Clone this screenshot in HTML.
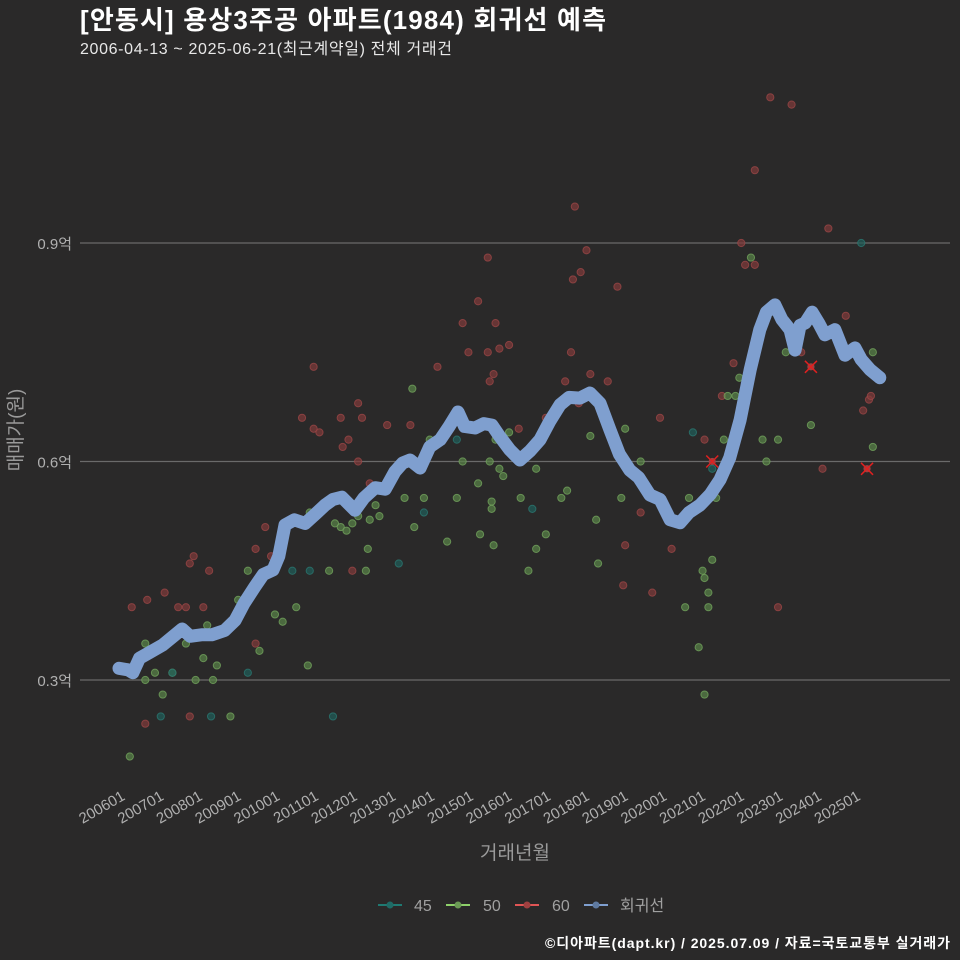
<!DOCTYPE html>
<html><head><meta charset="utf-8">
<style>
html,body{margin:0;padding:0;background:#2a2929;overflow:hidden;width:960px;height:960px;}
svg{display:block;}
svg text{font-family:"Liberation Sans","Noto Sans CJK KR",sans-serif;}
</style></head>
<body>
<svg id="chart" width="960" height="960" xmlns="http://www.w3.org/2000/svg">
<rect width="960" height="960" fill="#2a2929"/>
<text x="80" y="29" fill="#ffffff" font-size="26" font-weight="bold" textLength="526">[안동시] 용상3주공 아파트(1984) 회귀선 예측</text>
<text x="80" y="54" fill="#e8e8e8" font-size="16" textLength="372">2006-04-13 ~ 2025-06-21(최근계약일) 전체 거래건</text>
<g id="grid"></g>
<g id="pts"></g>
<g id="line"></g>
<g id="xt"></g>
<text x="22" y="430" fill="#9a9a9a" font-size="19" text-anchor="middle" transform="rotate(-90 22 430)">매매가(원)</text>
<text x="515" y="859" fill="#9a9a9a" font-size="19" text-anchor="middle">거래년월</text>
<g font-size="16" fill="#a0a0a0">
<g><line x1="378" y1="905" x2="402" y2="905" stroke="#1f7a72" stroke-width="2"/><circle cx="390" cy="905" r="3.5" fill="#1f6b66"/><text x="414" y="911">45</text></g>
<g><line x1="446" y1="905" x2="470" y2="905" stroke="#8ed16a" stroke-width="2"/><circle cx="458" cy="905" r="3.5" fill="#6b9a55"/><text x="483" y="911">50</text></g>
<g><line x1="515" y1="905" x2="539" y2="905" stroke="#e05555" stroke-width="2"/><circle cx="527" cy="905" r="3.5" fill="#a04040"/><text x="552" y="911">60</text></g>
<g><line x1="584" y1="905" x2="608" y2="905" stroke="#7f9fcf" stroke-width="2"/><circle cx="596" cy="905" r="3.5" fill="#5f7aa0"/><text x="620" y="911">회귀선</text></g>
</g>
<text x="950" y="948" fill="#ffffff" font-size="14" font-weight="bold" text-anchor="end" textLength="405">©디아파트(dapt.kr) / 2025.07.09 / 자료=국토교통부 실거래가</text>
</svg>
<script>
const yTicks=[0.3,0.6,0.9];
const yTickLabels=["0.3억","0.6억","0.9억"];
const xTickYears=[2006,2007,2008,2009,2010,2011,2012,2013,2014,2015,2016,2017,2018,2019,2020,2021,2022,2023,2024,2025];
const xTickLabels=["200601","200701","200801","200901","201001","201101","201201","201301","201401","201501","201601","201701","201801","201901","202001","202101","202201","202301","202401","202501"];
const lineYears=[2005.87,2006.1,2006.23,2006.4,2006.67,2007.0,2007.32,2007.5,2007.71,2008.0,2008.27,2008.6,2008.87,2009.1,2009.38,2009.6,2009.85,2010.0,2010.16,2010.4,2010.68,2010.95,2011.19,2011.4,2011.63,2011.97,2012.2,2012.49,2012.75,2013.0,2013.2,2013.39,2013.65,2013.9,2014.17,2014.4,2014.63,2014.8,2015.07,2015.3,2015.51,2015.7,2015.97,2016.23,2016.5,2016.75,2017.0,2017.27,2017.5,2017.78,2018.04,2018.3,2018.56,2018.8,2019.07,2019.3,2019.59,2019.85,2020.11,2020.37,2020.6,2020.88,2021.15,2021.4,2021.65,2021.92,2022.18,2022.43,2022.6,2022.82,2023.0,2023.21,2023.34,2023.47,2023.6,2023.78,2023.95,2024.11,2024.37,2024.63,2024.89,2025.05,2025.28,2025.53];
const linePrices=[0.316,0.314,0.310,0.330,0.338,0.348,0.362,0.370,0.360,0.362,0.362,0.368,0.382,0.405,0.428,0.445,0.451,0.470,0.513,0.520,0.515,0.528,0.540,0.548,0.551,0.533,0.550,0.564,0.562,0.586,0.598,0.602,0.591,0.620,0.630,0.648,0.668,0.648,0.646,0.652,0.650,0.635,0.616,0.602,0.615,0.630,0.655,0.678,0.688,0.687,0.694,0.680,0.643,0.610,0.588,0.578,0.554,0.548,0.520,0.516,0.530,0.540,0.555,0.575,0.605,0.657,0.726,0.781,0.805,0.815,0.795,0.781,0.753,0.787,0.790,0.805,0.790,0.774,0.781,0.746,0.756,0.740,0.726,0.715];
const years60=[2006.2,2006.6,2006.55,2007.05,2007.4,2007.6,2007.7,2007.8,2007.7,2008.05,2008.2,2009.4,2009.65,2009.8,2009.4,2010.6,2010.9,2010.9,2011.05,2011.6,2011.65,2011.8,2011.9,2012.05,2012.05,2012.15,2012.35,2012.8,2013.4,2014.1,2014.75,2014.9,2015.15,2015.4,2015.4,2015.55,2015.6,2015.7,2015.95,2015.45,2016.2,2016.9,2017.4,2017.6,2017.65,2017.8,2017.95,2017.55,2017.75,2018.05,2018.5,2018.75,2018.95,2018.9,2019.35,2019.65,2019.85,2020.15,2021.0,2021.45,2021.75,2021.95,2022.05,2022.3,2022.3,2022.7,2022.9,2023.25,2023.5,2024.2,2024.05,2024.65,2025.1,2025.25,2025.3];
const prices60=[0.40,0.41,0.24,0.42,0.40,0.40,0.46,0.47,0.25,0.40,0.45,0.48,0.51,0.47,0.35,0.66,0.73,0.645,0.64,0.66,0.62,0.63,0.45,0.68,0.60,0.66,0.57,0.65,0.65,0.73,0.79,0.75,0.82,0.88,0.75,0.72,0.79,0.755,0.76,0.71,0.645,0.66,0.71,0.85,0.95,0.86,0.89,0.75,0.68,0.72,0.71,0.84,0.485,0.43,0.53,0.42,0.66,0.48,0.63,0.69,0.735,0.90,0.87,1.00,0.87,1.10,0.40,1.09,0.75,0.92,0.59,0.80,0.67,0.685,0.69];
const years50=[2006.15,2006.55,2006.55,2006.8,2007.0,2007.25,2007.6,2007.85,2008.05,2008.15,2008.3,2008.4,2008.75,2008.95,2009.2,2009.5,2009.9,2010.1,2010.45,2010.75,2010.8,2011.3,2011.45,2011.6,2011.75,2011.9,2012.05,2012.25,2012.3,2012.35,2012.5,2012.6,2013.25,2013.45,2013.5,2013.75,2013.9,2014.35,2014.6,2014.75,2015.15,2015.2,2015.45,2015.5,2015.5,2015.55,2015.6,2015.7,2015.8,2015.95,2016.25,2016.45,2016.65,2016.65,2016.9,2017.3,2017.45,2018.05,2018.2,2018.25,2018.85,2018.95,2019.35,2020.5,2020.6,2020.85,2020.95,2021.0,2021.0,2021.1,2021.1,2021.2,2021.3,2021.5,2021.6,2021.8,2021.9,2022.2,2022.5,2022.6,2022.9,2023.1,2023.75,2025.35,2025.35];
const prices50=[0.195,0.35,0.30,0.31,0.28,0.31,0.35,0.30,0.33,0.375,0.30,0.32,0.25,0.41,0.45,0.34,0.39,0.38,0.40,0.32,0.53,0.45,0.515,0.51,0.505,0.515,0.525,0.45,0.48,0.52,0.54,0.525,0.55,0.70,0.51,0.55,0.63,0.49,0.55,0.60,0.57,0.50,0.60,0.545,0.535,0.485,0.63,0.59,0.58,0.64,0.55,0.45,0.59,0.48,0.50,0.55,0.56,0.635,0.52,0.46,0.55,0.645,0.60,0.40,0.55,0.345,0.45,0.44,0.28,0.42,0.40,0.465,0.55,0.63,0.69,0.69,0.715,0.88,0.63,0.60,0.63,0.75,0.65,0.62,0.75];
const years45=[2006.95,2007.25,2008.25,2009.2,2010.35,2010.8,2011.4,2013.1,2013.75,2014.6,2016.55,2020.7,2020.9,2025.05,2021.2];
const prices45=[0.25,0.31,0.25,0.31,0.45,0.45,0.25,0.46,0.53,0.63,0.535,0.64,0.54,0.90,0.59];
const crossYears=[2021.2,2023.75,2025.2];
const crossPrices=[0.60,0.73,0.59];

const NS="http://www.w3.org/2000/svg";
function xs(v){return 124+(v-2006)*38.7;}
function ys(v){return 243+(0.9-v)/0.3*218.5;}
function mk(tag,attrs,parent){const e=document.createElementNS(NS,tag);for(const k in attrs)e.setAttribute(k,attrs[k]);parent.appendChild(e);return e;}
const grid=document.getElementById('grid');
yTicks.forEach((t,i)=>{
  const l=mk('line',{x1:80,x2:950,y1:ys(t),y2:ys(t),stroke:'#6a6a6a','stroke-width':1.2},grid);
  
  
  const tx=mk('text',{x:72,y:ys(t)+6,fill:'#b0b0b0','font-size':15,'text-anchor':'end'},grid);
  tx.textContent=yTickLabels[i];
  
  
});
const xt=document.getElementById('xt');
xTickYears.forEach((t,i)=>{
  const x=xs(t)+2,y=799;
  const tx=mk('text',{x:x,y:y,fill:'#b0b0b0','font-size':15,'text-anchor':'end',transform:`rotate(-30 ${x} ${y})`},xt);
  tx.textContent=xTickLabels[i];
  
  
});
const pts=document.getElementById('pts');
function dots(yr,pr,fill,stroke,name){
  yr.forEach((y,i)=>{
    const c=mk('circle',{cx:xs(y),cy:ys(pr[i]),r:3.6,fill:fill,stroke:stroke,'stroke-width':1,'fill-opacity':0.7,'stroke-opacity':0.8},pts);
    
    
  });
}
dots(years60,prices60,'#803a3a','#9a4646','point-60');
dots(years50,prices50,'#5a8448','#72a25c','point-50');
dots(years45,prices45,'#1f5e5a','#2a7770','point-45');
const lg=document.getElementById('line');
const d=lineYears.map((y,i)=>(i?'L':'M')+xs(y).toFixed(1)+','+ys(linePrices[i]).toFixed(1)).join('');
const p=mk('path',{d:d,fill:'none',stroke:'#7f9fcf','stroke-width':13,'stroke-linejoin':'round','stroke-linecap':'round'},lg);


crossYears.forEach((y,i)=>{
  const cx=xs(y),cy=ys(crossPrices[i]);
  const g=mk('g',{},lg);
  
  
  mk('circle',{cx:cx,cy:cy,r:3.6,fill:'#a04040'},g);
  mk('path',{d:`M${cx-6},${cy-6}L${cx+6},${cy+6}M${cx+6},${cy-6}L${cx-6},${cy+6}`,stroke:'#e02020','stroke-width':1.5},g);
});
</script>
</body></html>
